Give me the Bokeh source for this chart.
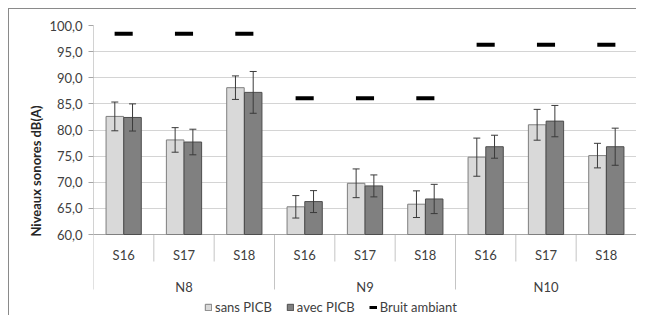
import math
from bokeh.plotting import figure
from bokeh.models import (FactorRange, Range1d, ColumnDataSource, Whisker, TeeHead,
                          FixedTicker, CustomJSTickFormatter, Legend, LegendItem)
from bokeh.transform import dodge
from bokeh.core.properties import value
from bokeh.embed import file_html
from bokeh.resources import INLINE

# ---------------- data ----------------
groups = ["N8", "N9", "N10"]
sessions = ["S16", "S17", "S18"]

sans_picb = [82.6, 78.1, 88.1, 65.3, 69.8, 65.8, 74.8, 81.0, 75.1]
sans_err = [2.75, 2.35, 2.25, 2.15, 2.75, 2.55, 3.65, 2.95, 2.35]
avec_picb = [82.4, 77.7, 87.2, 66.3, 69.3, 66.8, 76.8, 81.7, 76.8]
avec_err = [2.6, 2.45, 4.0, 2.1, 2.1, 2.8, 2.2, 3.0, 3.55]
bruit_ambiant = [98.4, 86.1, 96.3]          # one value per group
y_ticks = [60, 65, 70, 75, 80, 85, 90, 95, 100]

factors = [(g, s) for g in groups for s in sessions]
bruit_per_cat = [b for b in bruit_ambiant for _ in sessions]

src = ColumnDataSource(dict(
    x=factors,
    sans=sans_picb,
    sans_lo=[v - e for v, e in zip(sans_picb, sans_err)],
    sans_hi=[v + e for v, e in zip(sans_picb, sans_err)],
    avec=avec_picb,
    avec_lo=[v - e for v, e in zip(avec_picb, avec_err)],
    avec_hi=[v + e for v, e in zip(avec_picb, avec_err)],
    bruit=bruit_per_cat,
))

FONT = "Lato"
TXT = "#404040"
y_base = 60.0
px_per_unit = 209 / 40.0
y_start = y_base - 82 / px_per_unit

xr = FactorRange(*factors, range_padding=0, group_padding=0,
                 subgroup_padding=0, factor_padding=0)

p = figure(x_range=xr, y_range=Range1d(y_start, 100),
           width=628, height=307, output_backend="svg", toolbar_location=None,
           x_axis_location=None,
           min_border_left=84, min_border_right=1, min_border_top=16, min_border_bottom=0)
p.margin = (8, 0, 0, 8)
p.styles = {"border-left": "1px solid #8a8a8a", "border-top": "1px solid #8a8a8a"}
p.outline_line_color = None
p.background_fill_color = "white"
p.border_fill_color = "white"

p.xgrid.visible = False
p.ygrid.ticker = FixedTicker(ticks=y_ticks)
p.ygrid.grid_line_color = "#d4d4d4"
p.ygrid.grid_line_width = 1

ax = p.yaxis[0]
ax.ticker = FixedTicker(ticks=y_ticks)
ax.bounds = (60, 100)
ax.formatter = CustomJSTickFormatter(code="return tick.toFixed(1).replace('.', ',');")
ax.axis_line_color = None
ax.major_tick_out = 5
ax.major_tick_in = 0
ax.major_tick_line_color = "#a6a6a6"
ax.minor_tick_line_color = None
ax.major_label_text_font = FONT
ax.major_label_text_font_size = "13px"
ax.major_label_text_color = TXT
ax.major_label_standoff = 6
ax.axis_label = "Niveaux sonores dB(A)"
ax.axis_label_text_font = FONT
ax.axis_label_text_font_style = "bold"
ax.axis_label_text_font_size = "13px"
ax.axis_label_text_color = "#262626"
ax.axis_label_standoff = 2

# separators / axis lines
n = len(factors)
inner_end = y_base - 27 / px_per_unit
group_end = y_base - 55 / px_per_unit
sep_x = list(range(n + 1))
sep_y0 = []
sep_y1 = []
for i in sep_x:
    sep_y0.append(y_base)
    sep_y1.append(group_end if i % len(sessions) == 0 else inner_end)
p.segment(x0=sep_x, y0=sep_y0, x1=sep_x, y1=sep_y1, line_color="#c4c4c4", line_width=1)
p.segment(x0=[0], y0=[y_base], x1=[0], y1=[100], line_color="#a6a6a6", line_width=1)
p.segment(x0=[0], y0=[y_base], x1=[n], y1=[y_base], line_color="#a6a6a6", line_width=1)

# bars
off = 0.147
bw = 0.29
r_sans = p.vbar(x=dodge("x", -off, range=xr), top="sans", bottom=y_base, width=bw,
                source=src, fill_color="#d9d9d9", line_color="#7f7f7f", line_width=1)
r_avec = p.vbar(x=dodge("x", off, range=xr), top="avec", bottom=y_base, width=bw,
                source=src, fill_color="#808080", line_color="#4d4d4d", line_width=1)

for key, dx in (("sans", -off), ("avec", off)):
    w = Whisker(source=src, base=dodge("x", dx, range=xr), upper=key + "_hi", lower=key + "_lo",
                line_color="#3a3a3a", line_width=1, level="annotation",
                upper_head=TeeHead(size=7, line_color="#3a3a3a", line_width=1),
                lower_head=TeeHead(size=7, line_color="#3a3a3a", line_width=1))
    p.add_layout(w)

# bruit ambiant dashes
p.rect(x="x", y="bruit", width=0.3, height=4, height_units="screen", source=src,
       fill_color="black", line_color=None)
r_bruit_leg = p.line(x=[factors[0], factors[1]], y=[float("nan"), float("nan")],
                     line_color="black", line_width=3)

# category labels
p.text(x=factors, y=[y_base - 20 / px_per_unit] * n, text=[f[1] for f in factors],
       text_align="center", text_baseline="middle", text_font=value(FONT),
       text_font_size="13px", text_color=TXT)
p.text(x=groups, y=[y_base - 52 / px_per_unit] * len(groups), text=groups,
       text_align="center", text_baseline="middle", text_font=value(FONT),
       text_font_size="13px", text_color=TXT)

legend = Legend(items=[LegendItem(label="sans PICB", renderers=[r_sans]),
                       LegendItem(label="avec PICB", renderers=[r_avec]),
                       LegendItem(label="Bruit ambiant", renderers=[r_bruit_leg])],
                orientation="horizontal", location=(111, 1),
                glyph_width=8, glyph_height=8, label_height=14,
                label_text_font=FONT, label_text_font_size="13px", label_text_color=TXT,
                label_standoff=3, spacing=14, padding=0, margin=0,
                border_line_color=None, background_fill_alpha=0)
p.add_layout(legend)

open("out.html", "w").write(file_html(p, INLINE))
